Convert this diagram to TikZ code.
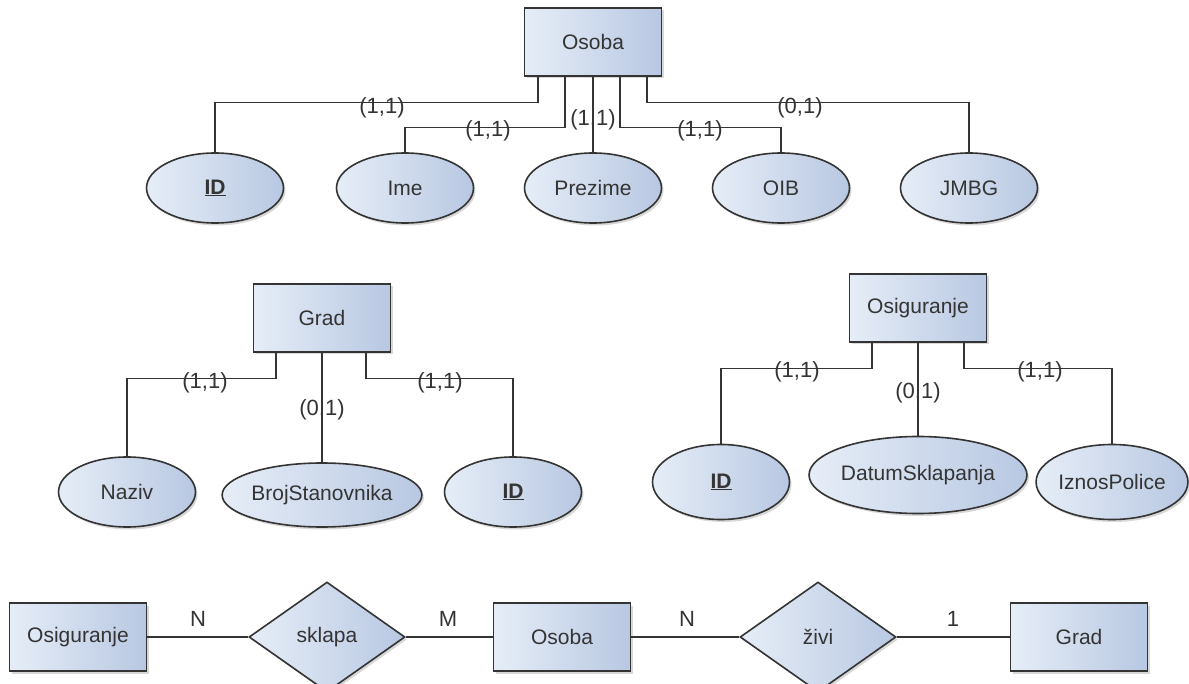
\documentclass[tikz,border=0pt]{standalone}
\usepackage{fontspec}
\setmainfont{Liberation Sans}
\usetikzlibrary{shapes.geometric,shadows,calc}
\definecolor{erlight}{RGB}{230,237,247}
\definecolor{erdark}{RGB}{184,200,226}
\definecolor{erline}{RGB}{52,52,52}
\newcommand{\erfont}{\fontsize{21}{25}\selectfont}
\newcommand{\cardfont}{\fontsize{22}{26}\selectfont}
\newcommand{\keyattr}[1]{\underline{\textbf{#1}}}
\tikzset{
	erbase/.style={draw=erline, line width=1.6pt, left color=erlight, right color=erdark,
		font=\erfont, text=erline, inner sep=0pt,
		drop shadow={shadow xshift=2pt, shadow yshift=-2.5pt, opacity=0.3}},
	entbox/.style={erbase, rectangle, minimum width=137pt, minimum height=68pt},
	attrell/.style={erbase, ellipse, minimum width=137pt, minimum height=70pt},
	relshape/.style={erbase, diamond, minimum width=156pt, minimum height=110pt},
	conn/.style={draw=erline, line width=1.3pt},
	card/.style={font=\cardfont, text=erline, inner sep=0pt}
}

\begin{document}
\begin{tikzpicture}[x=1pt, y=-1pt]
	\clip (0,0) rectangle (1189,684);
	\fill[white] (0,0) rectangle (1189,684);

	% Osoba i atributi
	\node[entbox] (osoba) at (593,42) {Osoba};
	\node[attrell] (oid) at (215,188) {\keyattr{ID}};
	\node[attrell] (ime) at (405,188) {Ime};
	\node[attrell] (prezime) at (593,188) {Prezime};
	\node[attrell] (oib) at (781,188) {OIB};
	\node[attrell] (jmbg) at (969,188) {JMBG};
	\draw[conn] (oid.north) |- ($(osoba.south)+(-55,26)$) -- ($(osoba.south)+(-55,0)$);
	\draw[conn] (ime.north) |- ($(osoba.south)+(-28,51)$) -- ($(osoba.south)+(-28,0)$);
	\draw[conn] (osoba.south) -- (prezime.north);
	\draw[conn] (oib.north) |- ($(osoba.south)+(27,51)$) -- ($(osoba.south)+(27,0)$);
	\draw[conn] (jmbg.north) |- ($(osoba.south)+(54,26)$) -- ($(osoba.south)+(54,0)$);
	\node[card] (kid) at (382,108) {(1,1)};
	\node[card] (kime) at (488,131) {(1,1)};
	\node[card] (kprez) at (593,120) {(1,1)};
	\node[card] (koib) at (700,131) {(1,1)};
	\node[card] (kjmbg) at (800,108) {(0,1)};

	% Grad i atributi
	\node[entbox] (grad) at (322,318) {Grad};
	\node[attrell] (naziv) at (127,492) {Naziv};
	\node[attrell, minimum width=167pt, minimum height=64pt] (broj) at (322,495) {BrojStanovnika};
	\node[attrell] (gid) at (513,492) {\keyattr{ID}};
	\draw[conn] (naziv.north) |- ($(grad.south)+(-46,26)$) -- ($(grad.south)+(-46,0)$);
	\draw[conn] (grad.south) -- (broj.north);
	\draw[conn] (gid.north) |- ($(grad.south)+(44,26)$) -- ($(grad.south)+(44,0)$);
	\node[card] (knaziv) at (205,383) {(1,1)};
	\node[card] (kbroj) at (322,410) {(0,1)};
	\node[card] (kgid) at (440,383) {(1,1)};

	% Osiguranje i atributi
	\node[entbox] (osig) at (918,308) {Osiguranje};
	\node[attrell, minimum height=75pt] (sid) at (721,482) {\keyattr{ID}};
	\node[attrell, minimum width=168pt, minimum height=77pt] (datum) at (918,475) {DatumSklapanja};
	\node[attrell, minimum height=75pt] (iznos) at (1112,482) {IznosPolice};
	\draw[conn] (sid.north) |- ($(osig.south)+(-46,26)$) -- ($(osig.south)+(-46,0)$);
	\draw[conn] (osig.south) -- (datum.north);
	\draw[conn] (iznos.north) |- ($(osig.south)+(46,26)$) -- ($(osig.south)+(46,0)$);
	\node[card] (ksid) at (797,372) {(1,1)};
	\node[card] (kdatum) at (918,393) {(0,1)};
	\node[card] (kiznos) at (1040,372) {(1,1)};

	% veze
	\node[entbox] (osig2) at (78,637) {Osiguranje};
	\node[relshape] (sklapa) at (327,637) {sklapa};
	\node[entbox] (osoba2) at (562,637) {Osoba};
	\node[relshape] (zivi) at (818,637) {živi};
	\node[entbox] (grad2) at (1079,637) {Grad};
	\draw[conn] (osig2) -- (sklapa) -- (osoba2) -- (zivi) -- (grad2);
	\node[card] (kn1) at (198,619) {N};
	\node[card] (km) at (448,619) {M};
	\node[card] (kn2) at (687,619) {N};
	\node[card] (k1) at (953,619) {1};
\end{tikzpicture}
\end{document}
